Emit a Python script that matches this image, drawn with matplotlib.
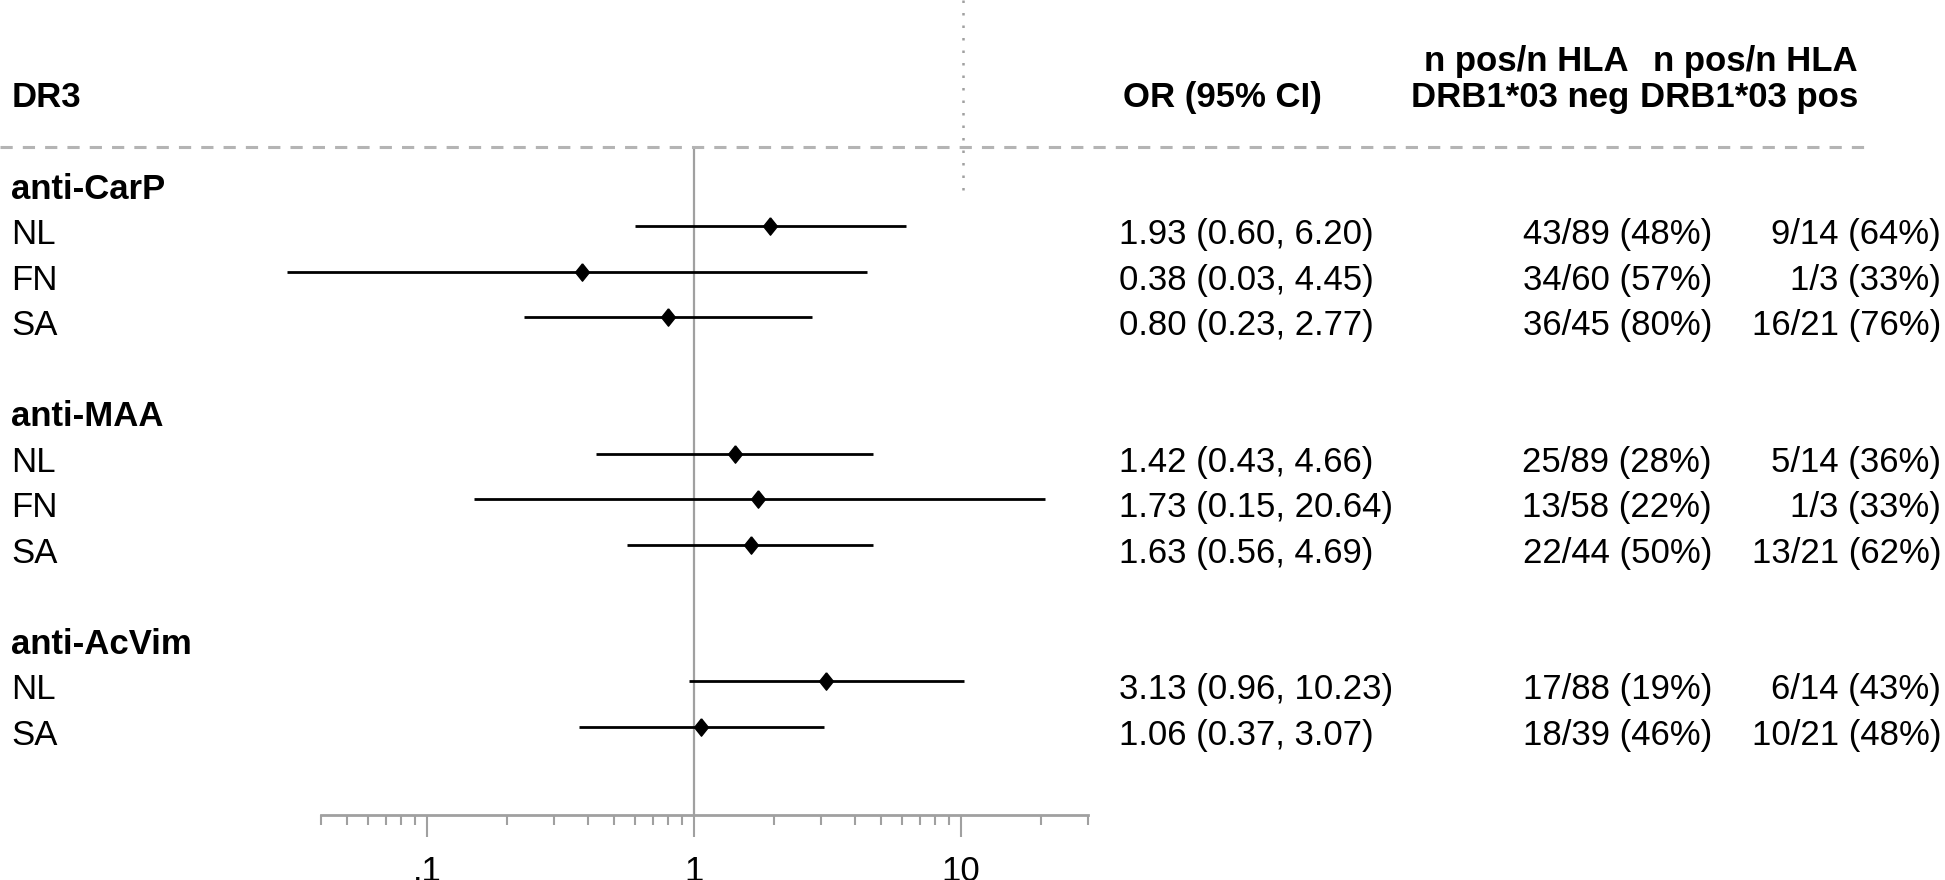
import numpy as np
import matplotlib
matplotlib.use("Agg")
import matplotlib.pyplot as plt
from matplotlib.lines import Line2D
from matplotlib.transforms import blended_transform_factory

plt.rcParams['font.family'] = ['Liberation Sans', 'DejaVu Sans']

# data
groups = ["anti-CarP", "anti-MAA", "anti-AcVim"]
cohorts = [["NL", "FN", "SA"], ["NL", "FN", "SA"], ["NL", "SA"]]
or_vals = [1.93, 0.38, 0.80, 1.42, 1.73, 1.63, 3.13, 1.06]
ci_low = [0.60, 0.03, 0.23, 0.43, 0.15, 0.56, 0.96, 0.37]
ci_high = [6.20, 4.45, 2.77, 4.66, 20.64, 4.69, 10.23, 3.07]
neg_pos = [43, 34, 36, 25, 13, 22, 17, 18]
neg_n = [89, 60, 45, 89, 58, 44, 88, 39]
pos_pos = [9, 1, 16, 5, 1, 13, 6, 10]
pos_n = [14, 3, 21, 14, 3, 21, 14, 21]

major_ticks = [0.1, 1, 10]
major_labels = [".1", "1", "10"]
minor_ticks = [0.04, 0.05, 0.06, 0.07, 0.08, 0.09,
               0.2, 0.3, 0.4, 0.5, 0.6, 0.7, 0.8, 0.9,
               2, 3, 4, 5, 6, 7, 8, 9, 20, 30]

W, H = 1945, 880
FS = 25
GRAY = "#a0a0a0"
LIGHT = "#b4b4b4"

fig = plt.figure(figsize=(W / 100, H / 100), dpi=100)
ax = fig.add_axes([250 / W, 0, 900 / W, 1])
ax.set_xscale("log")
ax.set_xlim(0.02173, 51.0)
ax.set_ylim(15.37, -3.97)
ax.patch.set_alpha(0)

# build rows
row_label = []
est_rows = []
r = 0
for g, coh in zip(groups, cohorts):
    row_label.append((r, g, True))
    r += 1
    for c in coh:
        row_label.append((r, c, False))
        est_rows.append(r)
        r += 1
    r += 1
est_rows = np.array(est_rows)

axis_y = 13.945
top_y = -0.736

ax.vlines(1, top_y, axis_y, color=GRAY, lw=1.6, zorder=1)
ax.hlines(est_rows, ci_low, ci_high, color="black", lw=2.0, zorder=2)
diamond = [(0, 1), (0.8, 0), (0, -1), (-0.8, 0), (0, 1)]
ax.plot(or_vals, est_rows, ls="none", marker=diamond, ms=12.5,
        color="black", zorder=3)

for s in ["top", "left", "right"]:
    ax.spines[s].set_visible(False)
ax.spines["bottom"].set_position(("data", axis_y))
ax.spines["bottom"].set_bounds(0.04, 30)
ax.spines["bottom"].set_color(GRAY)
ax.spines["bottom"].set_linewidth(2.0)
ax.set_yticks([])
ax.set_xticks(major_ticks)
ax.set_xticklabels(major_labels)
ax.set_xticks(minor_ticks, minor=True)
ax.xaxis.set_minor_formatter(plt.NullFormatter())
ax.tick_params(axis="x", which="major", length=15.5, width=1.5, color=GRAY,
               labelsize=FS, pad=13)
ax.tick_params(axis="x", which="minor", length=7, width=1.5, color=GRAY)

tr = blended_transform_factory(fig.transFigure, ax.transData)
dy = 0.11

for row, txt, bold in row_label:
    ax.text(11 / W, row + dy, txt, transform=tr, fontsize=FS,
            fontweight="bold" if bold else "normal", va="center_baseline",
            ha="left")

for i, row in enumerate(est_rows):
    ax.text(1119 / W, row + dy,
            f"{or_vals[i]:.2f} ({ci_low[i]:.2f}, {ci_high[i]:.2f})",
            transform=tr, fontsize=FS, va="center_baseline", ha="left")
    ax.text(1712 / W, row + dy,
            f"{neg_pos[i]}/{neg_n[i]} ({round(100 * neg_pos[i] / neg_n[i])}%)",
            transform=tr, fontsize=FS, va="center_baseline", ha="right")
    ax.text(1941 / W, row + dy,
            f"{pos_pos[i]}/{pos_n[i]} ({round(100 * pos_pos[i] / pos_n[i])}%)",
            transform=tr, fontsize=FS, va="center_baseline", ha="right")

# header
hb1, hb2 = -2.42, -1.62
ax.text(12 / W, hb2, "DR3", transform=tr, fontsize=FS, fontweight="bold",
        va="baseline", ha="left")
ax.text(1123 / W, hb2, "OR (95% CI)", transform=tr, fontsize=FS,
        fontweight="bold", va="baseline", ha="left")
ax.text(1629 / W, hb1, "n pos/n HLA", transform=tr, fontsize=FS,
        fontweight="bold", va="baseline", ha="right")
ax.text(1629 / W, hb2, "DRB1*03 neg", transform=tr, fontsize=FS,
        fontweight="bold", va="baseline", ha="right")
ax.text(1858 / W, hb1, "n pos/n HLA", transform=tr, fontsize=FS,
        fontweight="bold", va="baseline", ha="right")
ax.text(1858 / W, hb2, "DRB1*03 pos", transform=tr, fontsize=FS,
        fontweight="bold", va="baseline", ha="right")

# separators
fig.add_artist(Line2D([0, 1873 / W], [1 - 147 / H, 1 - 147 / H],
                      transform=fig.transFigure, color=LIGHT, lw=2.2,
                      dashes=(4, 3.3)))
fig.add_artist(Line2D([963 / W, 963 / W], [1, 1 - 196 / H],
                      transform=fig.transFigure, color=GRAY, lw=1.8,
                      dashes=(1, 4)))

fig.savefig("out.png", dpi=100)
